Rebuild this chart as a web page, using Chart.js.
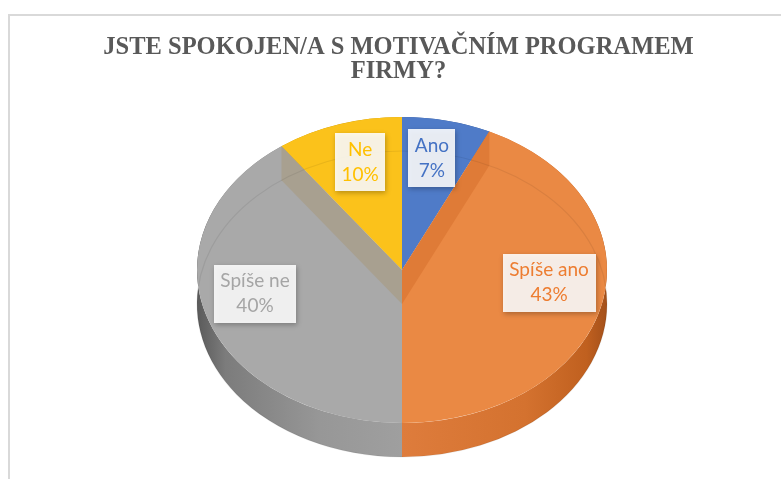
<!DOCTYPE html>
<html lang="cs">
<head>
<meta charset="utf-8">
<title>Motivační program</title>
<script src="https://cdn.jsdelivr.net/npm/chart.js@4.4.1/dist/chart.umd.min.js"></script>
<style>
  html, body { margin: 0; padding: 0; background: #fff; }
  #wrap { width: 781px; height: 479px; }
</style>
</head>
<body>
<div id="wrap"><canvas id="graf" width="781" height="479"></canvas></div>
<script>
// data
const kategorie = ['Ano', 'Spíše ano', 'Spíše ne', 'Ne'];
const hodnoty = [7, 43, 40, 10];
const barvy = ['#4f7bc8', '#ea8944', '#a9a9a9', '#fbc21b'];
const barvyTextu = ['#4472c4', '#ed7d31', '#a5a5a5', '#ffc000'];
const titulek = ['JSTE SPOKOJEN/A S MOTIVAČNÍM PROGRAMEM', 'FIRMY?'];

// 3D vzhled - horni elipsa a hloubka boku
const stred = { x: 402, y: 270 };
const poloosaX = 205, poloosaY = 153, hloubka = 34;
const polohaPopisku = [0.67, 0.735, 0.754, 0.66];
const zdvihPopisku = 12;

const bokBarvy = [
  [[0, '#2f4f8a'], [1, '#3a5fa0']],
  [[0, '#dd7a3a'], [0.5, '#de7c3c'], [0.8, '#d4722f'], [0.95, '#c0601f'], [1, '#a4501a']],
  [[0, '#5a5a5a'], [0.07, '#7c7c7c'], [0.3, '#979797'], [0.5, '#9f9f9f'], [1, '#9f9f9f']],
  [[0, '#c79400'], [1, '#d9a300']]
];

let tr = null;

const plugin3d = {
  id: 'pie3d',
  beforeDraw(chart) {
    const ctx = chart.ctx;
    ctx.save();
    ctx.fillStyle = '#ffffff';
    ctx.fillRect(0, 0, chart.width, chart.height);
    ctx.fillStyle = '#d9d9d9';
    ctx.fillRect(8, 14, chart.width - 8, 2);
    ctx.fillRect(8, 14, 2, chart.height - 14);
    ctx.restore();
  },
  beforeDatasetsDraw(chart) {
    const ctx = chart.ctx;
    const arcs = chart.getDatasetMeta(0).data;
    const a0 = arcs[0];
    const R = a0.outerRadius, cx = a0.x, cy = a0.y;
    const sx = poloosaX / R, sy = poloosaY / R;
    tr = { R, cx, cy, sx, sy, dy: hloubka / sy };
    ctx.save();
    ctx.translate(stred.x, stred.y);
    ctx.scale(sx, sy);
    ctx.translate(-cx, -cy);

    // bok kolace
    arcs.forEach((arc, i) => {
      const g = ctx.createLinearGradient(cx - R, 0, cx + R, 0);
      bokBarvy[i].forEach(s => g.addColorStop(s[0], s[1]));
      ctx.fillStyle = g;
      ctx.beginPath();
      ctx.arc(arc.x, arc.y, R, arc.startAngle, arc.endAngle);
      ctx.arc(arc.x, arc.y + tr.dy, R, arc.endAngle, arc.startAngle, true);
      ctx.closePath();
      ctx.fill();
    });
  },
  afterDatasetsDraw(chart) {
    const ctx = chart.ctx;
    const arcs = chart.getDatasetMeta(0).data;
    const { R, dy } = tr;

    // steny rezu
    const stena = (arc, uhel, barva) => {
      const px = arc.x + R * Math.cos(uhel), py = arc.y + R * Math.sin(uhel);
      ctx.fillStyle = barva;
      ctx.beginPath();
      ctx.moveTo(arc.x, arc.y);
      ctx.lineTo(px, py);
      ctx.lineTo(px, py + dy);
      ctx.lineTo(arc.x, arc.y + dy);
      ctx.closePath();
      ctx.fill();
    };
    stena(arcs[0], arcs[0].endAngle, '#df7b37');
    stena(arcs[3], arcs[3].startAngle, '#a8a090');

    // jemna linka spodni hrany
    ctx.strokeStyle = 'rgba(0,0,0,0.07)';
    ctx.lineWidth = 1 / tr.sy;
    ctx.beginPath();
    ctx.arc(arcs[0].x, arcs[0].y + dy, R, 0, Math.PI * 2);
    ctx.stroke();
    ctx.restore();

    // popisky
    const total = hodnoty.reduce((a, b) => a + b, 0);
    ctx.save();
    ctx.font = '19px Lato';
    arcs.forEach((arc, i) => {
      const mid = (arc.startAngle + arc.endAngle) / 2;
      const k = polohaPopisku[i];
      const lx = stred.x + poloosaX * k * Math.cos(mid);
      const ly = stred.y + poloosaY * k * Math.sin(mid) - zdvihPopisku;
      const radky = [kategorie[i], Math.round(hodnoty[i] / total * 100) + '%'];
      const w = Math.max(...radky.map(t => ctx.measureText(t).width)) + 13;
      const h = 58;
      ctx.shadowColor = 'rgba(0,0,0,0.3)';
      ctx.shadowBlur = 5;
      ctx.shadowOffsetX = 1;
      ctx.shadowOffsetY = 2;
      ctx.fillStyle = 'rgba(255,255,255,0.88)';
      ctx.fillRect(Math.round(lx - w / 2), Math.round(ly - h / 2), Math.round(w), h);
      ctx.shadowColor = 'transparent';
      ctx.fillStyle = barvyTextu[i];
      ctx.textAlign = 'center';
      ctx.textBaseline = 'middle';
      ctx.fillText(radky[0], lx, ly - 12.5);
      ctx.fillText(radky[1], lx, ly + 12.5);
    });
    ctx.restore();
  }
};

new Chart(document.getElementById('graf'), {
  type: 'pie',
  data: {
    labels: kategorie,
    datasets: [{
      data: hodnoty,
      backgroundColor: barvy,
      borderWidth: 0,
      clip: false
    }]
  },
  options: {
    responsive: false,
    animation: false,
    events: [],
    layout: { padding: { top: 0, bottom: 20, left: 16 } },
    plugins: {
      legend: { display: false },
      tooltip: { enabled: false },
      title: {
        display: true,
        text: titulek,
        color: '#595959',
        font: { family: 'Liberation Serif', size: 24.5, weight: 'bold', lineHeight: 0.97 },
        padding: { top: 36, bottom: 10 }
      }
    }
  },
  plugins: [plugin3d]
});
</script>
</body>
</html>
